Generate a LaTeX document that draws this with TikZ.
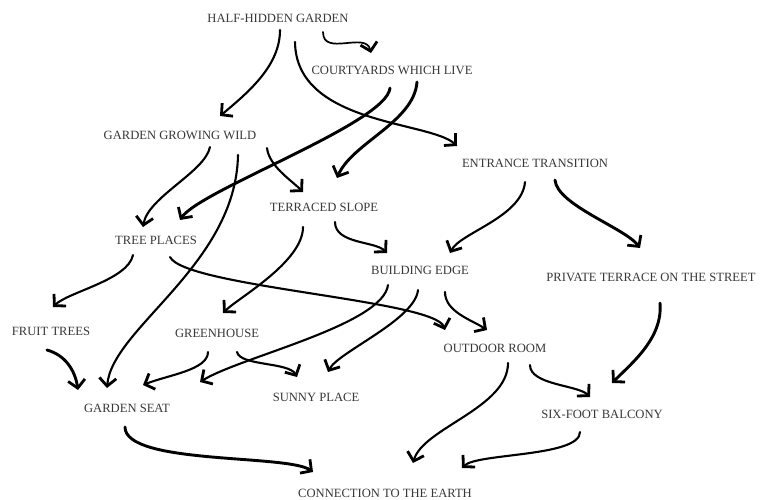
\documentclass[tikz,border=0pt]{standalone}
\usepackage{fontspec}
\setmainfont{Liberation Serif}
\usetikzlibrary{arrows.meta,calc}
\begin{document}
\begin{tikzpicture}[x=1pt,y=-1pt,
  lbl/.style={font=\fontsize{12.6}{14}\selectfont, text=black!78, inner sep=0pt},
  conn/.style={line width=2.1pt, line cap=round, -{Straight Barb[length=8pt,width=17pt,line width=2.8pt]}},
  heavy/.style={conn, line width=2.9pt}]
\useasboundingbox (0,0) rectangle (760,500);
\fill[white] (0,0) rectangle (760,500);
% nodes
\node[lbl] (hhg) at (278,18) {HALF-HIDDEN GARDEN};
\node[lbl] (cwl) at (392,70) {COURTYARDS WHICH LIVE};
\node[lbl] (ggw) at (180,135) {GARDEN GROWING WILD};
\node[lbl] (et)  at (535,163) {ENTRANCE TRANSITION};
\node[lbl] (ts)  at (324,207) {TERRACED SLOPE};
\node[lbl] (tp)  at (156,240) {TREE PLACES};
\node[lbl] (be)  at (420,270) {BUILDING EDGE};
\node[lbl] (pt)  at (651,277) {PRIVATE TERRACE ON THE STREET};
\node[lbl] (ft)  at (51,331) {FRUIT TREES};
\node[lbl] (gh)  at (217,333) {GREENHOUSE};
\node[lbl] (or)  at (495,348) {OUTDOOR ROOM};
\node[lbl] (sp)  at (316,397) {SUNNY PLACE};
\node[lbl] (gs)  at (127,408) {GARDEN SEAT};
\node[lbl] (sfb) at (602,414) {SIX-FOOT BALCONY};
\node[lbl] (ce)  at (385,493) {CONNECTION TO THE EARTH};
% connectors
\draw[conn, line width=1.7pt] ($(hhg)+(45,14)$) .. controls +(0,25) and +(-5,-22) .. ($(cwl)+(-21,-17)$);
\draw[conn] ($(hhg)+(2,12)$) .. controls +(0,35) and +(30,-25) .. ($(ggw)+(40,-19)$);
\draw[conn] ($(hhg)+(17,24)$) .. controls +(1,83) and +(-27,-25) .. ($(et)+(-78,-17)$);
\draw[heavy] ($(cwl)+(-2,18)$) .. controls +(-3,35) and +(20,-30) .. ($(tp)+(24,-20)$);
\draw[heavy] ($(cwl)+(25,12)$) .. controls +(-3,40) and +(15,-35) .. ($(ts)+(13,-29)$);
\draw[conn] ($(ggw)+(30,12)$) .. controls +(-5,25) and +(5,-30) .. ($(tp)+(-13,-13)$);
\draw[conn] ($(ggw)+(58,20)$) .. controls +(-2,110) and +(5,-60) .. ($(gs)+(-20,-20)$);
\draw[conn] ($(ggw)+(87,13)$) .. controls +(2,18) and +(-12,-12) .. ($(ts)+(-21,-15)$);
\draw[conn] ($(ts)+(-21,20)$) .. controls +(0,35) and +(15,-15) .. ($(gh)+(6,-20)$);
\draw[conn] ($(ts)+(11,15)$) .. controls +(0,22) and +(-12,-12) .. ($(be)+(-33,-17)$);
\draw[conn] ($(tp)+(-23,15)$) .. controls +(-5,25) and +(15,-15) .. ($(ft)+(2,-24)$);
\draw[conn] ($(tp)+(14,17)$) .. controls +(15,30) and +(-10,-30) .. ($(or)+(-50,-18)$);
\draw[conn] ($(be)+(-32,15)$) .. controls +(-5,40) and +(40,-25) .. ($(gs)+(73,-26)$);
\draw[conn] ($(be)+(-2,20)$) .. controls +(-3,30) and +(10,-20) .. ($(sp)+(12,-25)$);
\draw[conn] ($(be)+(25,22)$) .. controls +(0,20) and +(-15,-10) .. ($(or)+(-8,-18)$);
\draw[conn] ($(gh)+(20,19)$) .. controls +(3,14) and +(-8,-15) .. ($(sp)+(-19,-20)$);
\draw[conn] ($(gh)+(-9,19)$) .. controls +(0,18) and +(25,-10) .. ($(gs)+(16,-23)$);
\draw[heavy] ($(ft)+(-4,19)$) .. controls +(18,5) and +(-3,-20) .. ($(gs)+(-49,-18)$);
\draw[heavy] ($(gs)+(-2,19)$) .. controls +(0,38) and +(-25,-18) .. ($(ce)+(-72,-21)$);
\draw[conn] ($(or)+(13,15)$) .. controls +(0,45) and +(10,-35) .. ($(ce)+(28,-30)$);
\draw[conn] ($(or)+(35,17)$) .. controls +(0,20) and +(-12,-12) .. ($(sfb)+(-12,-17)$);
\draw[heavy] ($(pt)+(9,26)$) .. controls +(3,35) and +(20,-20) .. ($(sfb)+(10,-31)$);
\draw[conn] ($(sfb)+(-22,18)$) .. controls +(0,25) and +(15,-15) .. ($(ce)+(77,-25)$);
\draw[conn] ($(et)+(-10,19)$) .. controls +(-3,35) and +(10,-20) .. ($(be)+(30,-17)$);
\draw[heavy] ($(et)+(20,17)$) .. controls +(2,25) and +(-15,-20) .. ($(pt)+(-11,-29)$);
\end{tikzpicture}
\end{document}
